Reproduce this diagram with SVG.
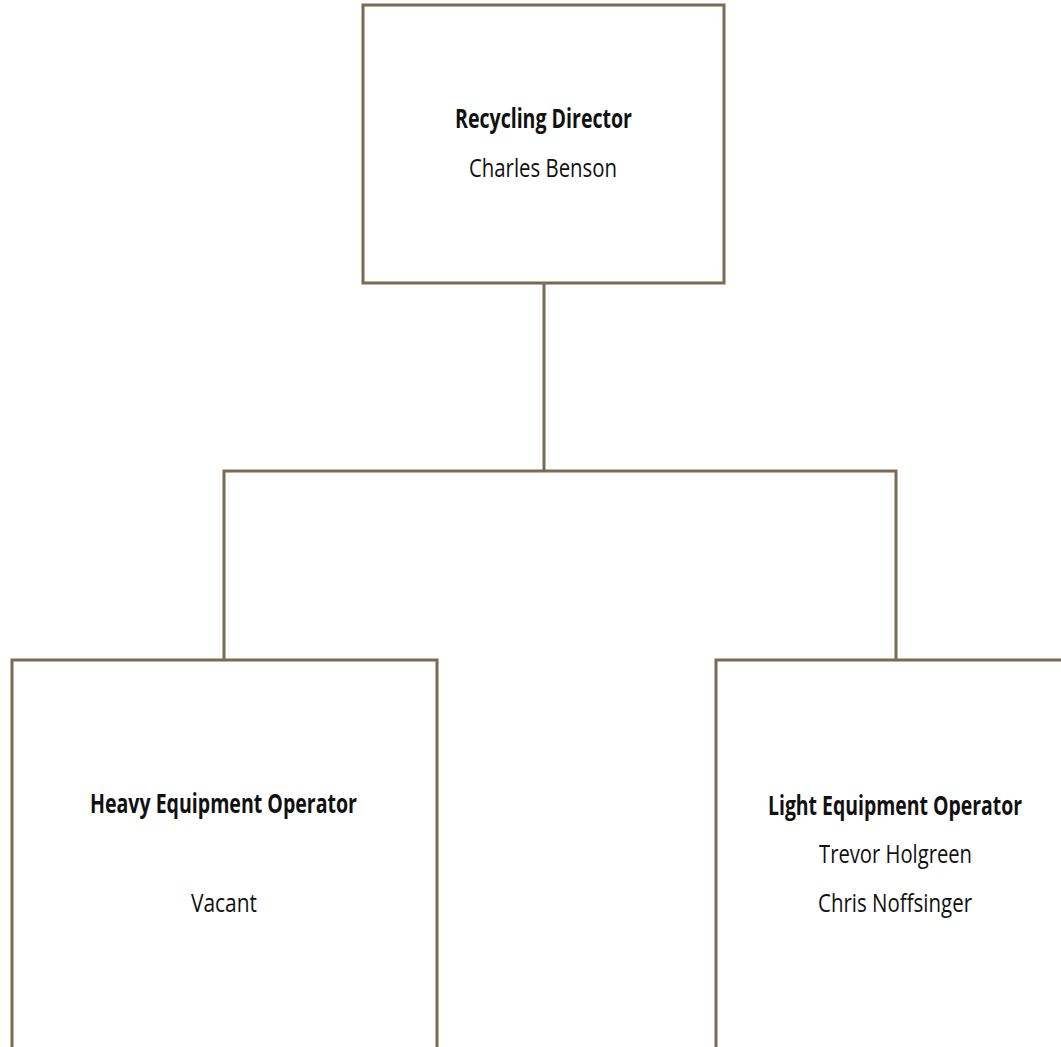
<svg xmlns="http://www.w3.org/2000/svg" width="1061" height="1047" viewBox="0 0 1061 1047">
  <style>
    .box { fill: #ffffff; stroke: #7b6a55; stroke-width: 3; }
    .link { fill: none; stroke: #7b6a55; stroke-width: 3; }
    .title { font-family: "Open Sans", "Noto Sans", "Liberation Sans", sans-serif; font-size: 26px; font-weight: bold; fill: #111111; text-anchor: middle; }
    .name { font-family: "Open Sans", "Noto Sans", "Liberation Sans", sans-serif; font-size: 26px; fill: #111111; text-anchor: middle; }
  </style>
  <rect width="1061" height="1047" fill="#ffffff"/>

  <!-- reporting lines -->
  <g id="connectors">
    <path class="link" d="M544 283 V471"/>
    <path class="link" d="M224 660 V471 H896 V660"/>
  </g>

  <g id="director">
    <rect class="box" x="363" y="5" width="361" height="278"/>
    <text class="title" x="543.5" y="128" textLength="177" lengthAdjust="spacingAndGlyphs">Recycling Director</text>
    <text class="name" x="543" y="177" textLength="148" lengthAdjust="spacingAndGlyphs">Charles Benson</text>
  </g>

  <g id="heavy-operator">
    <rect class="box" x="12" y="660" width="425" height="400"/>
    <text class="title" x="223.5" y="813" textLength="267" lengthAdjust="spacingAndGlyphs">Heavy Equipment Operator</text>
    <text class="name" x="224" y="912" textLength="66" lengthAdjust="spacingAndGlyphs">Vacant</text>
  </g>

  <g id="light-operator">
    <rect class="box" x="716" y="660" width="360" height="400"/>
    <text class="title" x="895" y="815" textLength="254" lengthAdjust="spacingAndGlyphs">Light Equipment Operator</text>
    <text class="name" x="895.5" y="863" textLength="153" lengthAdjust="spacingAndGlyphs">Trevor Holgreen</text>
    <text class="name" x="895" y="912" textLength="154" lengthAdjust="spacingAndGlyphs">Chris Noffsinger</text>
  </g>
</svg>
